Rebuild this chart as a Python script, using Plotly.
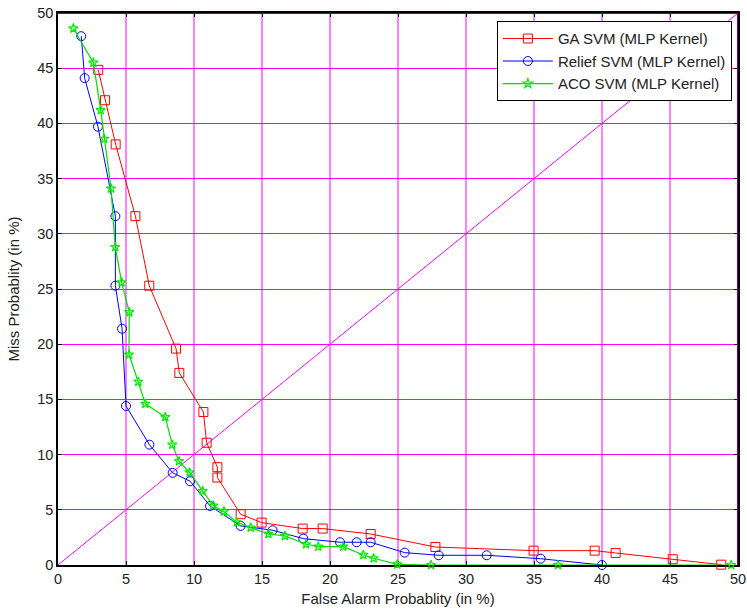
import plotly.graph_objects as go

ga_x = [2.96, 3.46, 4.24, 5.69, 6.71, 8.68, 8.92, 10.69, 10.93, 11.72, 11.72, 13.43, 14.97,
        17.99, 19.46, 22.99, 27.75, 34.97, 39.46, 41.0, 45.2, 48.77]
ga_y = [44.85, 42.1, 38.1, 31.6, 25.3, 19.6, 17.4, 13.86, 11.07, 8.86, 7.92, 4.6, 3.84,
        3.3, 3.3, 2.81, 1.63, 1.3, 1.3, 1.09, 0.52, 0.03]

relief_x = [1.71, 1.96, 2.94, 4.22, 4.22, 4.71, 5.0, 6.72, 8.43, 9.71, 11.18, 13.43, 15.78,
            18.04, 20.74, 21.96, 22.99, 25.49, 27.99, 31.52, 35.49, 40.0]
relief_y = [47.9, 44.1, 39.7, 31.6, 25.3, 21.4, 14.4, 10.9, 8.35, 7.59, 5.35, 3.54, 3.15,
            2.39, 2.06, 2.06, 2.06, 1.12, 0.88, 0.88, 0.57, 0.0]

aco_x = [1.13, 2.6, 3.14, 3.4, 3.9, 4.21, 4.68, 5.24, 5.22, 5.9, 6.42, 7.89, 8.4, 8.9, 9.68,
         10.64, 11.42, 12.2, 13.14, 14.17, 15.47, 16.69, 18.24, 19.14, 20.98, 22.45, 23.21,
         24.95, 27.43, 36.76, 49.5]
aco_y = [48.6, 45.5, 41.2, 38.6, 34.1, 28.8, 25.6, 22.9, 19.06, 16.6, 14.6, 13.4, 10.9, 9.4, 8.38,
         6.69, 5.38, 4.85, 3.87, 3.39, 2.81, 2.63, 1.88, 1.66, 1.66, 0.91, 0.61,
         0.05, 0.0, 0.0, 0.0]

diag = [0, 50]
ticks = [0, 5, 10, 15, 20, 25, 30, 35, 40, 45, 50]

font_family = "Liberation Sans, Arial, sans-serif"

fig = go.Figure()
fig.add_trace(go.Scatter(x=diag, y=diag, mode="lines", line=dict(color="#ff00ff", width=1),
                         showlegend=False, hoverinfo="skip"))
fig.add_trace(go.Scatter(x=ga_x, y=ga_y, mode="lines+markers", name="GA SVM (MLP Kernel)",
                         line=dict(color="#ff0000", width=1),
                         marker=dict(symbol="square-open", size=9, color="#ff0000", line=dict(width=1)),
                         cliponaxis=False))
fig.add_trace(go.Scatter(x=relief_x, y=relief_y, mode="lines+markers", name="Relief SVM (MLP Kernel)",
                         line=dict(color="#0000ff", width=1),
                         marker=dict(symbol="circle-open", size=9, color="#0000ff", line=dict(width=1)),
                         cliponaxis=False))
fig.add_trace(go.Scatter(x=aco_x, y=aco_y, mode="lines+markers", name="ACO SVM (MLP Kernel)",
                         line=dict(color="#00dd00", width=1.2),
                         marker=dict(symbol="star-open", size=7, color="#00ee00", line=dict(width=1.2)),
                         cliponaxis=False))

axis_common = dict(
    range=[0, 50], tickvals=ticks, ticktext=[str(t) for t in ticks],
    showline=True, linecolor="black", linewidth=1.5, mirror="allticks",
    ticks="inside", ticklen=4, tickcolor="black",
    showgrid=True, zeroline=False, layer="below traces",
    ticklabeloverflow="allow",
    tickfont=dict(family=font_family, size=14.5, color="#222222"),
)

fig.update_xaxes(**axis_common, gridcolor="rgba(255,0,255,0.5)", gridwidth=2,
                 title=dict(text="False Alarm Probablity (in %)",
                            font=dict(family=font_family, size=15, color="#222222"), standoff=7))
fig.update_yaxes(**axis_common, gridcolor="#ff00ff", gridwidth=1,
                 title=dict(text="Miss Probablity (in %)",
                            font=dict(family=font_family, size=15, color="#222222"), standoff=14))

# purple top/right edges of the box
fig.add_shape(type="line", xref="x", yref="y", x0=0, x1=50, y0=50, y1=50,
              line=dict(color="#800080", width=2), layer="above")
fig.add_shape(type="line", xref="x", yref="y", x0=50, x1=50, y0=0, y1=50,
              line=dict(color="#800080", width=2), layer="above")

fig.update_layout(
    width=747, height=611,
    margin=dict(l=58, r=9, t=13, b=46, autoexpand=False),
    paper_bgcolor="white", plot_bgcolor="white",
    font=dict(family=font_family, size=14, color="#222222"),
    legend=dict(x=0.991, y=0.985, xanchor="right", yanchor="top",
                bgcolor="white", bordercolor="black", borderwidth=1,
                font=dict(family=font_family, size=15, color="#222222"),
                itemwidth=50),
)

# remove the default page margin so the figure fills the window exactly
fig.write_html("out.html", config={"displayModeBar": False},
               post_script="document.body.style.margin='0';document.body.style.overflow='hidden';")
